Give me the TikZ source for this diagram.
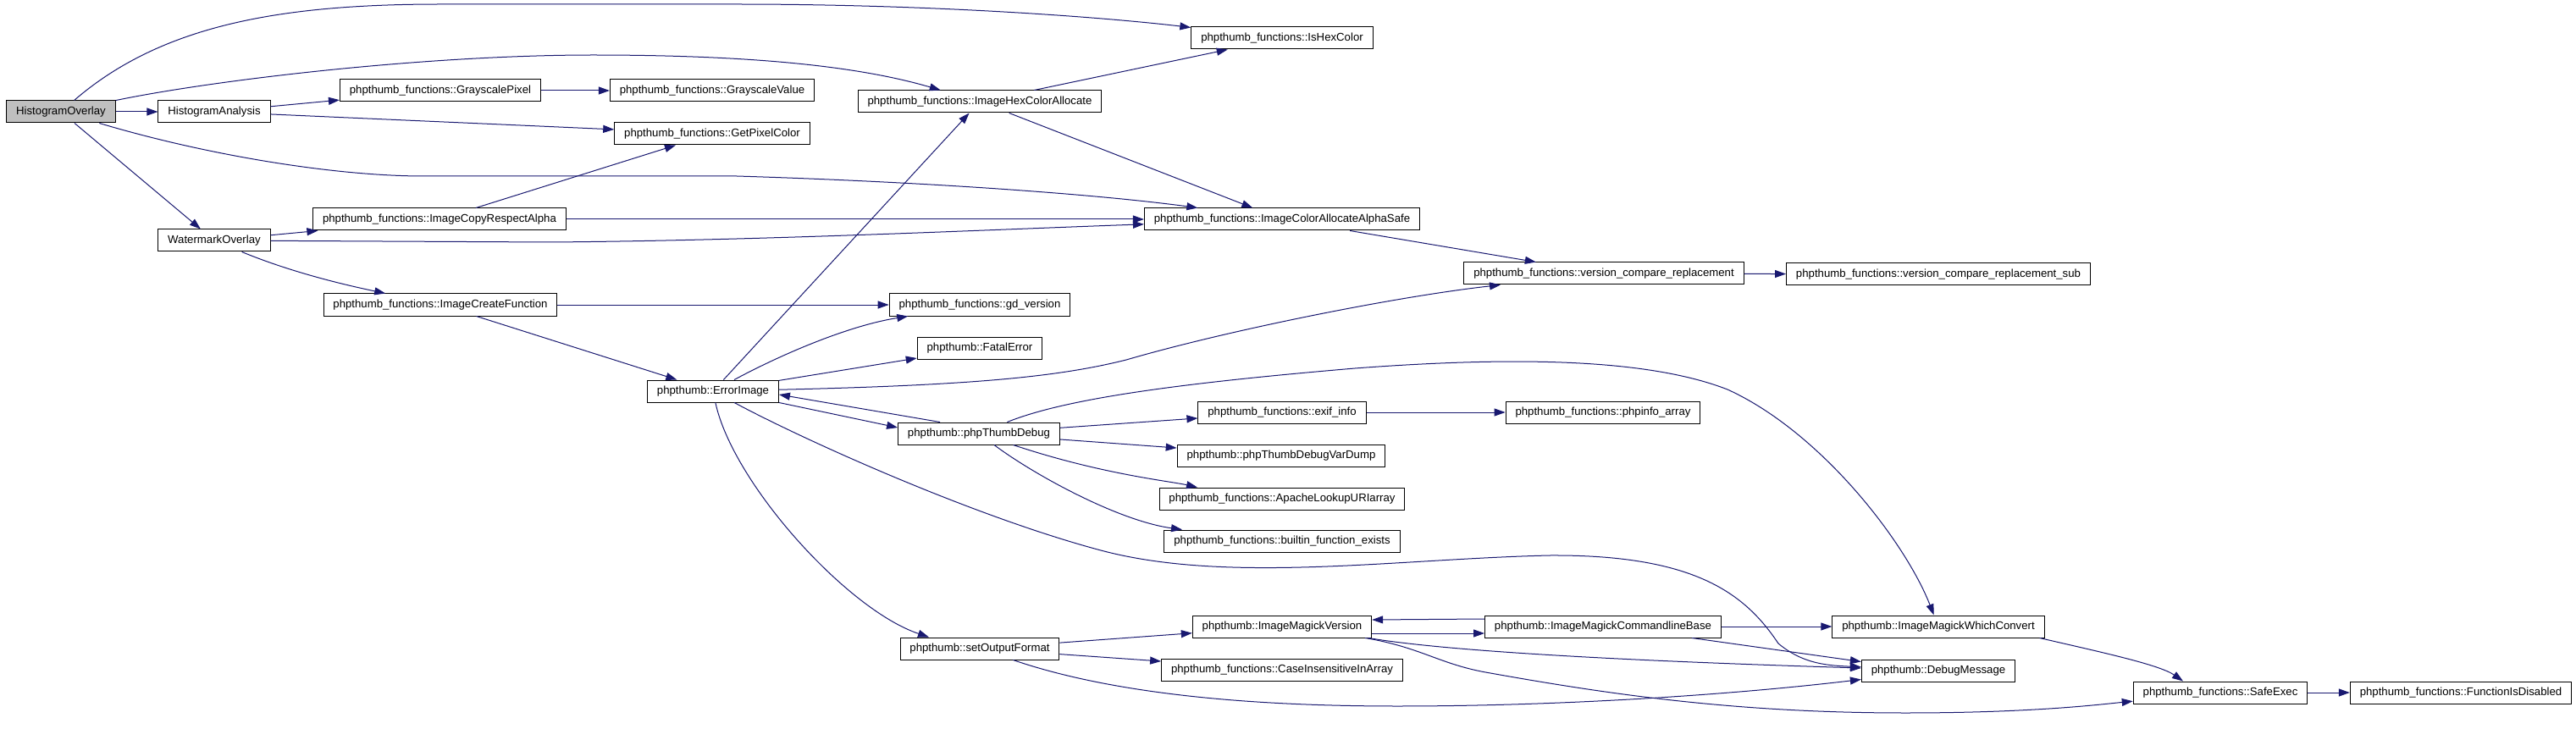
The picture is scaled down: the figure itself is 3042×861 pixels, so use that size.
\documentclass[tikz,border=0pt]{standalone}
\usepackage{fontspec}
\setmainfont{Liberation Sans}
\usetikzlibrary{arrows.meta,calc}
\definecolor{edgeCol}{HTML}{191970}
\definecolor{rootFill}{HTML}{BFBFBF}

\begin{document}
\begin{tikzpicture}[
  x=0.5pt, y=-0.5pt,
  font=\fontsize{6.6pt}{7.9pt}\selectfont,
  fbox/.style={draw=black, line width=0.5pt, fill=white, inner xsep=5.7pt,
               inner ysep=0pt, minimum height=13pt},
  rootbox/.style={fbox, fill=rootFill},
  call/.style={-{Triangle[length=6.5pt,width=4.5pt]}, line width=0.5pt, draw=edgeCol},
]
\useasboundingbox (0,0) rectangle (3042,861);

% ---- Funciones ----
\node[rootbox] (ho)    at (72,132)   {HistogramOverlay};
\node[fbox]    (ha)    at (253,132)  {HistogramAnalysis};
\node[fbox]    (wo)    at (253,284)  {WatermarkOverlay};
\node[fbox]    (gp)    at (520,107)  {phpthumb\_functions::GrayscalePixel};
\node[fbox]    (icra)  at (519,259)  {phpthumb\_functions::ImageCopyRespectAlpha};
\node[fbox]    (icf)   at (520,360)  {phpthumb\_functions::ImageCreateFunction};
\node[fbox]    (gv)    at (841,107)  {phpthumb\_functions::GrayscaleValue};
\node[fbox]    (gpc)   at (841,158)  {phpthumb\_functions::GetPixelColor};
\node[fbox]    (ei)    at (842,462)  {phpthumb::ErrorImage};
\node[fbox]    (ihca)  at (1157,120) {phpthumb\_functions::ImageHexColorAllocate};
\node[fbox]    (gdv)   at (1157,360) {phpthumb\_functions::gd\_version};
\node[fbox]    (fe)    at (1157,411) {phpthumb::FatalError};
\node[fbox]    (ptd)   at (1156,512) {phpthumb::phpThumbDebug};
\node[fbox]    (sof)   at (1157,766) {phpthumb::setOutputFormat};
\node[fbox]    (ihc)   at (1514,45)  {phpthumb\_functions::IsHexColor};
\node[fbox]    (icaas) at (1514,259) {phpthumb\_functions::ImageColorAllocateAlphaSafe};
\node[fbox]    (exif)  at (1514,487) {phpthumb\_functions::exif\_info};
\node[fbox]    (vdump) at (1513,538) {phpthumb::phpThumbDebugVarDump};
\node[fbox]    (alu)   at (1514,589) {phpthumb\_functions::ApacheLookupURIarray};
\node[fbox]    (bfe)   at (1514,639) {phpthumb\_functions::builtin\_function\_exists};
\node[fbox]    (imv)   at (1514,740) {phpthumb::ImageMagickVersion};
\node[fbox]    (ciia)  at (1514,791) {phpthumb\_functions::CaseInsensitiveInArray};
\node[fbox]    (vcr)   at (1894,323) {phpthumb\_functions::version\_compare\_replacement};
\node[fbox]    (pia)   at (1893,487) {phpthumb\_functions::phpinfo\_array};
\node[fbox]    (imcb)  at (1893,740) {phpthumb::ImageMagickCommandlineBase};
\node[fbox]    (vcrs)  at (2289,324) {phpthumb\_functions::version\_compare\_replacement\_sub};
\node[fbox]    (imwc)  at (2289,740) {phpthumb::ImageMagickWhichConvert};
\node[fbox]    (dm)    at (2289,792) {phpthumb::DebugMessage};
\node[fbox]    (se)    at (2622,818) {phpthumb\_functions::SafeExec};
\node[fbox]    (fid)   at (2906,818) {phpthumb\_functions::FunctionIsDisabled};

% ---- Llamadas desde HistogramOverlay ----
\draw[call] (ho) .. controls (190,30) and (330,5) .. (520,5) -- (870,5)
  .. controls (1100,5) and (1300,20) .. (ihc);
\draw[call] (ho) -- (ha);
\draw[call] (ho) .. controls (250,95) and (500,65) .. (700,65)
  .. controls (900,65) and (1020,80) .. (ihca);
\draw[call] (ho) .. controls (250,185) and (400,208) .. (500,208) -- (870,208)
  .. controls (1100,215) and (1300,230) .. (icaas);
\draw[call] (ho) -- (wo);

% ---- HistogramAnalysis / WatermarkOverlay ----
\draw[call] (ha) -- (gp);
\draw[call] (ha) -- (gpc);
\draw[call] (gp) -- (gv);
\draw[call] (icra) -- (gpc);
\draw[call] (icra) -- (icaas);
\draw[call] (wo) -- (icra);
\draw[call] (wo) -- (650,286) .. controls (900,284) and (1150,272) .. (icaas);
\draw[call] (wo) .. controls (340,320) and (400,335) .. (icf);
\draw[call] (icf) -- (gdv);
\draw[call] (icf) -- (ei);
\draw[call] (ihca) -- (ihc);
\draw[call] (ihca) -- (icaas);
\draw[call] (icaas) -- (vcr);
\draw[call] (vcr) -- (vcrs);

% ---- ErrorImage ----
\draw[call] (ei) -- (ihca);
\draw[call] (ei) .. controls (920,420) and (1000,385) .. (gdv);
\draw[call] (ei) -- (fe);
\draw[call] (ei) .. controls (1150,455) and (1250,445) .. (1330,425)
  .. controls (1450,390) and (1650,350) .. (vcr);
\draw[call] (ei.south east) -- ($(ptd.west)+(0,-7)$);
\draw[call] ($(ptd.north)+(-46,0)$) -- ($(ei.east)+(0,4)$);
\draw[call] (ei) .. controls (950,520) and (1150,610) .. (1300,650)
  .. controls (1450,690) and (1650,660) .. (1830,656)
  .. controls (2000,655) and (2060,700) .. (2100,760)
  .. controls (2130,785) and (2160,786) .. (dm);
\draw[call] (ei) .. controls (865,570) and (1000,720) .. ($(sof.north)+(-60,0)$);

% ---- phpThumbDebug ----
\draw[call] (ptd) -- (exif);
\draw[call] (exif) -- (pia);
\draw[call] (ptd) -- (vdump);
\draw[call] (ptd) .. controls (1300,560) and (1380,568) .. ($(alu.north)+(-100,0)$);
\draw[call] (ptd) .. controls (1220,560) and (1320,615) .. ($(bfe.north)+(-118,0)$);
\draw[call] (ptd) .. controls (1260,470) and (1400,452) .. (1600,435)
  .. controls (1800,420) and (1950,425) .. (2040,460)
  .. controls (2150,510) and (2250,640) .. (imwc);

% ---- setOutputFormat / ImageMagick ----
\draw[call] (sof) -- (imv);
\draw[call] (sof) -- (ciia);
\draw[call] (sof) .. controls (1300,815) and (1450,834) .. (1650,834)
  .. controls (1850,834) and (2050,820) .. ($(dm.south west)+(0,-3)$);
\draw[call] ($(imv.east)+(0,8)$) -- ($(imcb.west)+(0,8)$);
\draw[call] ($(imcb.west)+(0,-9)$) -- ($(imv.east)+(0,-8)$);
\draw[call] ($(imv.south east)+(-4,0)$) .. controls (1700,768) and (1900,780) .. ($(dm.west)+(0,-3)$);
\draw[call] ($(imv.south east)+(-8,0)$) .. controls (1680,765) and (1700,785) .. (1760,795)
  .. controls (1900,820) and (2050,842) .. (2250,842)
  .. controls (2400,842) and (2480,832) .. (se);
\draw[call] (imcb) -- (imwc);
\draw[call] ($(imcb.south)+(105,0)$) -- ($(dm.north west)+(0,3)$);
\draw[call] ($(imwc.south east)+(-6,0)$) .. controls (2480,770) and (2550,785) .. ($(se.north)+(-44,0)$);
\draw[call] (se) -- (fid);

\end{tikzpicture}
\end{document}
